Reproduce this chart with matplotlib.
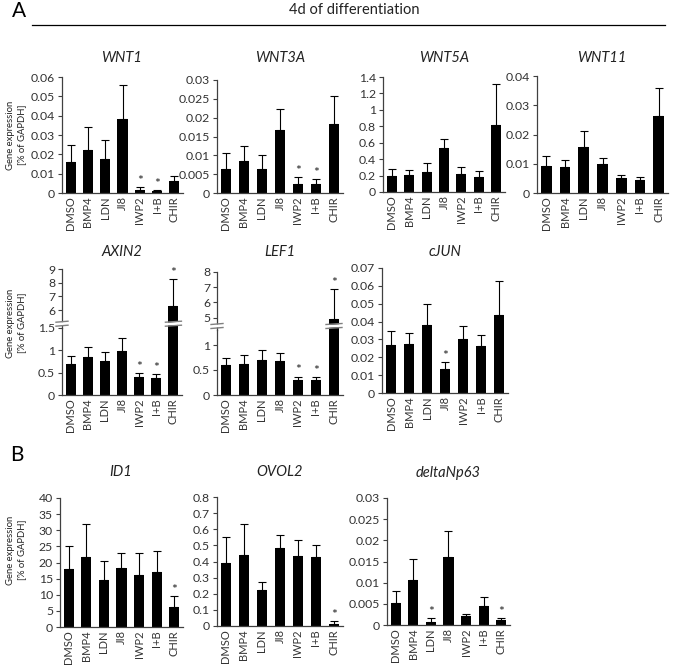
import numpy as np
import matplotlib
matplotlib.use("Agg")
import matplotlib.pyplot as plt
from matplotlib.ticker import FuncFormatter

plt.rcParams['font.family'] = ['Lato', 'DejaVu Sans']

W, H = 673, 666

categories = ["DMSO", "BMP4", "LDN", "JI8", "IWP2", "I+B", "CHIR"]

# mean values and top of error bar
wnt1 = [0.016, 0.0225, 0.0175, 0.0385, 0.0015, 0.001, 0.006]
wnt1_top = [0.025, 0.034, 0.0275, 0.056, 0.003, 0.0013, 0.009]
wnt1_sig = [4, 5]

wnt3a = [0.0065, 0.0084, 0.0063, 0.0168, 0.0025, 0.0025, 0.0182]
wnt3a_top = [0.0107, 0.0125, 0.0102, 0.0223, 0.0043, 0.0037, 0.0258]
wnt3a_sig = [4, 5]

wnt5a = [0.20, 0.21, 0.24, 0.54, 0.22, 0.18, 0.81]
wnt5a_top = [0.28, 0.27, 0.35, 0.64, 0.31, 0.26, 1.32]

wnt11 = [0.0093, 0.009, 0.0157, 0.01, 0.005, 0.0043, 0.0262]
wnt11_top = [0.0127, 0.0113, 0.0212, 0.012, 0.0063, 0.0053, 0.036]

axin2 = [0.70, 0.84, 0.75, 0.97, 0.40, 0.39, 6.3]
axin2_top = [0.86, 1.06, 0.96, 1.27, 0.50, 0.47, 8.25]
axin2_sig = [4, 5, 6]

lef1 = [0.60, 0.63, 0.71, 0.69, 0.30, 0.31, 4.9]
lef1_top = [0.75, 0.80, 0.91, 0.84, 0.37, 0.36, 6.9]
lef1_sig = [4, 5, 6]

cjun = [0.027, 0.0275, 0.038, 0.0137, 0.0305, 0.0262, 0.0435]
cjun_top = [0.035, 0.0337, 0.050, 0.0173, 0.0375, 0.0325, 0.0625]
cjun_sig = [3]

id1 = [18.0, 21.7, 14.5, 18.3, 16.0, 17.0, 6.2]
id1_top = [25.2, 32.0, 20.5, 22.8, 22.8, 23.5, 9.5]
id1_sig = [6]

ovol2 = [0.39, 0.44, 0.225, 0.485, 0.435, 0.43, 0.015]
ovol2_top = [0.555, 0.635, 0.27, 0.565, 0.535, 0.50, 0.028]
ovol2_sig = [6]

dnp63 = [0.0053, 0.0106, 0.0007, 0.016, 0.0021, 0.0046, 0.0011]
dnp63_top = [0.008, 0.0155, 0.0016, 0.0222, 0.0025, 0.0067, 0.0016]
dnp63_sig = [2, 6]

AX_COL = '#404040'
fig = plt.figure(figsize=(W / 100, H / 100), dpi=100)


def px_axes(x0, y_top, x1, y_bot):
    return fig.add_axes([x0 / W, 1 - y_bot / H, (x1 - x0) / W, (y_bot - y_top) / H])


def style(ax, ticks, show_x=True):
    for s in ['top', 'right']:
        ax.spines[s].set_visible(False)
    for s in ['left', 'bottom']:
        ax.spines[s].set_color(AX_COL)
        ax.spines[s].set_linewidth(0.9)
    ax.set_xlim(-0.5, 6.5)
    ax.set_yticks(ticks)
    ax.yaxis.set_major_formatter(FuncFormatter(lambda v, p: ('%g' % round(v, 6))))
    ax.tick_params(axis='y', length=3, width=0.8, color=AX_COL, labelsize=8.8,
                   labelcolor='#333333', pad=2)
    ax.set_xticks(range(len(categories)))
    if show_x:
        ax.set_xticklabels(categories, rotation=90, fontsize=8, color='#333333')
        ax.tick_params(axis='x', length=0, pad=2.5)
    else:
        ax.set_xticklabels([])
        ax.tick_params(axis='x', length=0)


def add_star(ax, x, y):
    ax.text(x, y, '*', ha='center', va='bottom', fontsize=10, color='#222222')


def bars(ax, vals, tops, sig):
    x = np.arange(len(vals))
    vals = np.array(vals)
    tops = np.array(tops)
    ax.bar(x, vals, width=0.58, color='black', zorder=2)
    ax.errorbar(x, vals, yerr=[np.zeros_like(vals), tops - vals], fmt='none',
                ecolor='black', elinewidth=0.8, capsize=3, capthick=0.8, zorder=3)
    for i in sig:
        add_star(ax, i, tops[i])


def panel(rect, vals, tops, ylim, ticks, sig=()):
    ax = px_axes(*rect)
    bars(ax, vals, tops, sig)
    ax.set_ylim(*ylim)
    style(ax, ticks)
    return ax


def broken_panel(x0, x1, y_top, y_mid, y_bot, vals, tops, lo, hi,
                 lo_ticks, hi_ticks, sig):
    ax_lo = px_axes(x0, y_mid, x1, y_bot)
    ax_hi = px_axes(x0, y_top, x1, y_mid)
    vals = np.array(vals)
    tops = np.array(tops)
    x = np.arange(len(vals))
    for ax in (ax_lo, ax_hi):
        ax.bar(x, vals, width=0.58, color='black', zorder=2)
        ax.errorbar(x, vals, yerr=[np.zeros_like(vals), tops - vals], fmt='none',
                    ecolor='black', elinewidth=0.8, capsize=3, capthick=0.8, zorder=3)
    for i in sig:
        add_star(ax_hi if tops[i] > lo[1] else ax_lo, i, tops[i])
    ax_lo.set_ylim(*lo)
    ax_hi.set_ylim(*hi)
    style(ax_lo, lo_ticks)
    style(ax_hi, hi_ticks, show_x=False)
    ax_hi.spines['bottom'].set_visible(False)
    # break marks across the y axis and the big bar
    for xc in [x0, x0 + (6 + 0.5) * (x1 - x0) / 7.0]:
        hw = 6 if xc == x0 else 8
        yb = y_mid - 4
        fig.patches.append(plt.Polygon(
            [((xc - hw) / W, 1 - (yb + 2.0) / H), ((xc + hw) / W, 1 - (yb + 1.0) / H),
             ((xc + hw) / W, 1 - (yb - 2.0) / H), ((xc - hw) / W, 1 - (yb - 1.0) / H)],
            closed=True, transform=fig.transFigure, facecolor='white',
            edgecolor='none', zorder=5))
        for d in (-2.0, 2.0):
            fig.lines.append(plt.Line2D(
                [(xc - hw) / W, (xc + hw) / W],
                [1 - (yb + 0.5 + d) / H, 1 - (yb - 0.5 + d) / H],
                transform=fig.transFigure, color='#808080', lw=1.0, zorder=6))
    return ax_hi


def title_at(cx, cy, text):
    fig.text(cx / W, 1 - cy / H, text, ha='center', va='center', fontsize=10.5,
             style='italic', color='#222222')


def ylabel_at(cy):
    fig.text(16 / W, 1 - cy / H, 'Gene expression\n[% of GAPDH]', ha='center',
             va='center', rotation=90, fontsize=6.8, color='#222222', linespacing=1.3)


# header
fig.text(12 / W, 1 - 11 / H, 'A', fontsize=15, ha='left', va='center')
fig.text(354 / W, 1 - 10 / H, '4d of differentiation', fontsize=10.5, ha='center',
         va='center', color='#222222')
fig.lines.append(plt.Line2D([32 / W, 665 / W], [1 - 25 / H, 1 - 25 / H],
                            transform=fig.transFigure, color='black', lw=0.9))
fig.text(10 / W, 1 - 455 / H, 'B', fontsize=15, ha='left', va='center')

# row 1
panel((62, 77, 183, 193), wnt1, wnt1_top, (0, 0.06),
      np.arange(0, 0.0601, 0.01), wnt1_sig)
title_at(122, 58, 'WNT1')
panel((217, 80, 343, 193), wnt3a, wnt3a_top, (0, 0.03),
      np.arange(0, 0.0301, 0.005), wnt3a_sig)
title_at(280, 58, 'WNT3A')
panel((383, 77, 505, 192), wnt5a, wnt5a_top, (0, 1.4),
      np.arange(0, 1.401, 0.2))
title_at(444, 58, 'WNT5A')
panel((537, 76, 668, 193), wnt11, wnt11_top, (0, 0.04),
      np.arange(0, 0.0401, 0.01))
title_at(602, 58, 'WNT11')
ylabel_at(135)

# row 2
broken_panel(62, 182, 269.3, 327.7, 395, axin2, axin2_top,
             (0, 1.5), (4.7, 9), [0, 0.5, 1, 1.5], [6, 7, 8, 9], axin2_sig)
title_at(122, 252, 'AXIN2')
broken_panel(217, 343, 271.7, 330, 395, lef1, lef1_top,
             (0, 1.3), (4.2, 8), [0, 0.5, 1], [5, 6, 7, 8], lef1_sig)
title_at(280, 252, 'LEF1')
panel((382, 268, 508, 393), cjun, cjun_top, (0, 0.07),
      np.arange(0, 0.0701, 0.01), cjun_sig)
title_at(445, 252, 'cJUN')
ylabel_at(323)

# row 3
panel((60, 498, 183, 627), id1, id1_top, (0, 40),
      np.arange(0, 40.1, 5), id1_sig)
title_at(121, 472, 'ID1')
panel((217, 497, 343, 626), ovol2, ovol2_top, (0, 0.8),
      np.arange(0, 0.801, 0.1), ovol2_sig)
title_at(280, 472, 'OVOL2')
panel((387, 498, 510, 625), dnp63, dnp63_top, (0, 0.03),
      np.arange(0, 0.0301, 0.005), dnp63_sig)
title_at(448, 473, 'deltaNp63')
ylabel_at(550)

fig.savefig('out.png', dpi=100, facecolor='white')
